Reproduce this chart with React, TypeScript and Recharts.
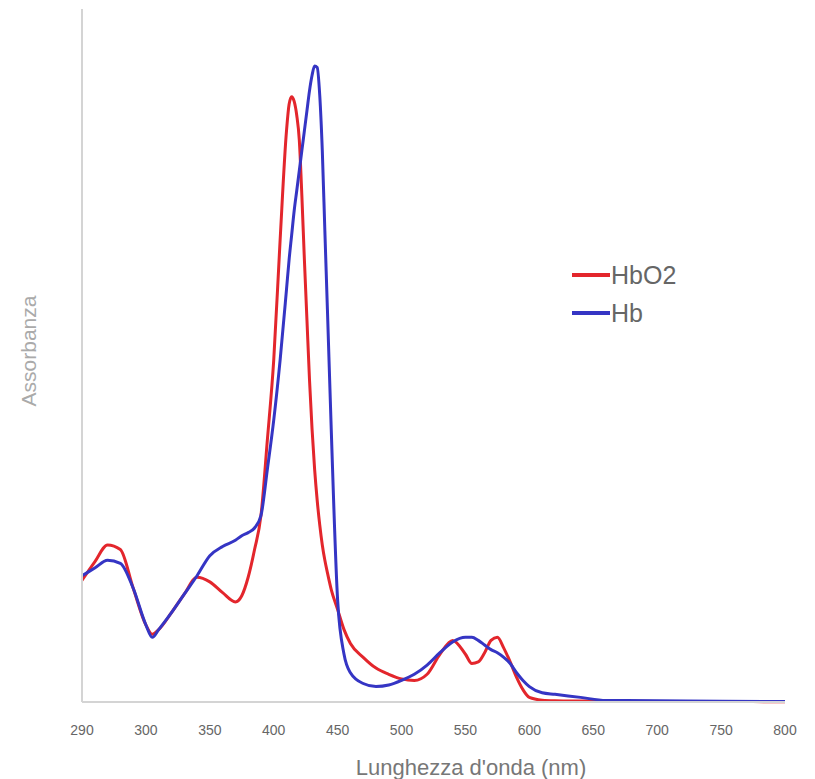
import { LineChart, Line, XAxis, YAxis, Label } from 'recharts'

// wavelengths (nm) sampled along the curves
const WAVELENGTH = [
  290, 292, 294, 296, 298, 300, 305, 310, 320, 330, 340, 350, 360, 370, 375, 380, 385, 390, 395,
  400, 405, 410, 412, 414, 416, 418, 420, 422, 424, 426, 428, 430, 432, 434, 436, 438, 440, 442,
  445, 450, 455, 460, 470, 480, 490, 500, 510, 520, 530, 540, 550, 555, 560, 565, 570, 575, 580,
  585, 590, 595, 600, 610, 620, 640, 660, 700, 750, 800,
]

const HBO2 = [
  0.79, 0.91, 1.02, 0.99, 0.74, 0.5, 0.44, 0.47, 0.58, 0.7, 0.81, 0.78, 0.71, 0.65, 0.69, 0.81, 0.99, 1.21, 1.7,
  2.22, 3.0, 3.71, 3.88, 3.93, 3.9, 3.81, 3.65, 3.29, 2.87, 2.48, 2.09, 1.77, 1.51, 1.31, 1.15, 1.02, 0.92, 0.84,
  0.73, 0.6, 0.47, 0.38, 0.29, 0.22, 0.18, 0.15, 0.14, 0.18, 0.31, 0.4, 0.31, 0.25, 0.26, 0.32, 0.4, 0.42, 0.35,
  0.26, 0.16, 0.08, 0.03, 0.012, 0.008, 0.006, 0.005, 0.004, 0.003, 0.002,
]

const HB = [
  0.82, 0.87, 0.92, 0.9, 0.74, 0.5, 0.42, 0.47, 0.58, 0.7, 0.82, 0.95, 1.01, 1.05, 1.08, 1.1, 1.13, 1.21, 1.51,
  1.83, 2.22, 2.68, 2.87, 3.03, 3.19, 3.32, 3.45, 3.58, 3.71, 3.84, 3.97, 4.07, 4.13, 4.12, 3.94, 3.58, 3.06, 2.55,
  1.77, 0.66, 0.31, 0.19, 0.12, 0.1, 0.11, 0.14, 0.18, 0.24, 0.32, 0.39, 0.42, 0.42, 0.4, 0.37, 0.34, 0.32, 0.29,
  0.25, 0.19, 0.14, 0.1, 0.06, 0.05, 0.03, 0.01, 0.008, 0.005, 0.003,
]

const TICK_LABELS = ['290', '300', '350', '400', '450', '500', '550', '600', '650', '700', '750', '800']
const Y_TICKS = [0, 0.5, 1, 1.5, 2, 2.5, 3, 3.5, 4, 4.5]

const RED = '#e3262c'
const BLUE = '#3535c4'
const FONT = '"Liberation Sans", Arial, sans-serif'

// the axis has 290 one division before 300, then one division per 50 nm
const toPos = (nm: number) => (nm < 300 ? (nm - 290) / 10 : 1 + (nm - 300) / 50)

const data = WAVELENGTH.map((nm, i) => ({ nm, pos: toPos(nm), hbo2: HBO2[i], hb: HB[i] }))

function LegendBox() {
  const items = [
    { name: 'HbO2', color: RED },
    { name: 'Hb', color: BLUE },
  ]
  return (
    <div style={{ position: 'absolute', left: 572, top: 256, fontFamily: FONT, fontSize: 25, color: '#666' }}>
      {items.map(it => (
        <div key={it.name} style={{ display: 'flex', alignItems: 'center', height: 38, lineHeight: '38px' }}>
          <span style={{ width: 38, height: 4, background: it.color, marginRight: 1 }} />
          {it.name}
        </div>
      ))}
    </div>
  )
}

export default function App() {
  return (
    <div style={{ position: 'absolute', left: 0, top: 0, width: 815, height: 779, background: '#fff' }}>
      <LineChart width={815} height={779} data={data} margin={{ top: 9, right: 30, bottom: 0, left: 0 }}>
        <XAxis
          type="number"
          dataKey="pos"
          domain={[0, 11]}
          ticks={TICK_LABELS.map((_, i) => i)}
          tickFormatter={(v: number) => TICK_LABELS[v] ?? ''}
          interval={0}
          axisLine={{ stroke: '#d4d4d4', strokeWidth: 2 }}
          tickLine={false}
          tick={{ fill: '#666', fontSize: 14, fontFamily: FONT }}
          tickMargin={17}
          height={77}
        >
          <Label
            content={() => (
              <text x={471} y={775} textAnchor="middle" fill="#777" fontSize={22} fontFamily={FONT}>
                Lunghezza d'onda (nm)
              </text>
            )}
          />
        </XAxis>
        <YAxis
          type="number"
          domain={[0, 4.5]}
          ticks={Y_TICKS}
          width={82}
          axisLine={{ stroke: '#d4d4d4', strokeWidth: 2 }}
          tickLine={{ stroke: '#e6e6e6' }}
          tickSize={4}
          tick={false}
        >
          <Label
            content={() => (
              <text
                x={36}
                y={351}
                transform="rotate(-90 36 351)"
                textAnchor="middle"
                fill="#aaa"
                fontSize={21}
                fontFamily={FONT}
              >
                Assorbanza
              </text>
            )}
          />
        </YAxis>
        <Line
          type="monotone"
          dataKey="hbo2"
          name="HbO2"
          stroke={RED}
          strokeWidth={3}
          dot={false}
          isAnimationActive={false}
        />
        <Line
          type="monotone"
          dataKey="hb"
          name="Hb"
          stroke={BLUE}
          strokeWidth={3}
          dot={false}
          isAnimationActive={false}
        />
      </LineChart>
      <LegendBox />
    </div>
  )
}
